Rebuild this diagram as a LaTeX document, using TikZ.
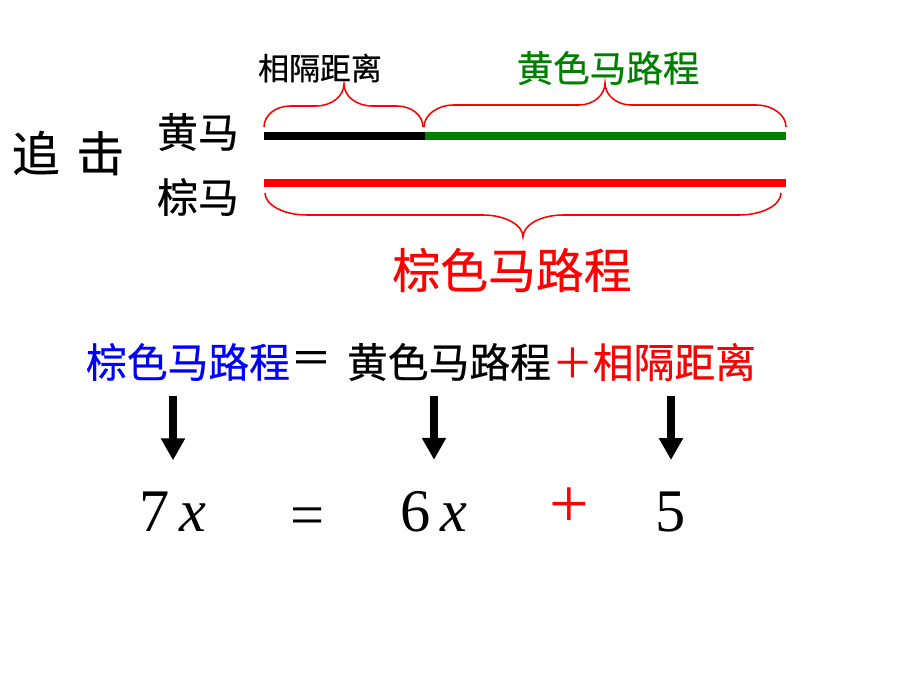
\documentclass[tikz,border=0pt]{standalone}
\usepackage{fontspec}
\setmainfont{Liberation Serif}
\newfontfamily\cjk[FakeBold=0.5]{Noto Sans CJK SC}
\usetikzlibrary{arrows.meta}
\definecolor{hgreen}{RGB}{0,128,0}
\definecolor{hred}{RGB}{255,0,0}
\definecolor{hblue}{RGB}{0,0,255}

\begin{document}
\begin{tikzpicture}[x=0.025cm,y=-0.025cm,
  lbl/.style={inner sep=0pt,font=\cjk},
  term/.style={inner sep=0pt,font=\fontsize{43}{46}\selectfont},
  bar/.style={line width=5pt},
  brace/.style={hred,line width=1.1pt},
  down/.style={line width=5pt,-{Triangle[length=15.6pt,width=16.3pt]},
    shorten <=10.5pt,shorten >=22.5pt}]
\useasboundingbox (0,0) rectangle (920,690);

% labels at the left
\node[lbl,font=\cjk\fontsize{34}{36}\selectfont] (chase) at (68,153) {追\hspace{0.35em}击};
\node[lbl,font=\cjk\fontsize{29}{32}\selectfont] (yellow) at (198,132) {黄马};
\node[lbl,font=\cjk\fontsize{29}{32}\selectfont] (brown) at (198,197) {棕马};

% the two tracks
\coordinate (ya) at (264,136);
\coordinate (yb) at (425,136);
\coordinate (yc) at (786,136);
\coordinate (ba) at (264,183);
\coordinate (bb) at (786,183);
\draw[bar,black] (ya) -- (yb);
\draw[bar,hgreen] (yb) -- (yc);
\draw[bar,hred] (ba) -- (bb);

% braces
\draw[brace] (264,127) .. controls (264,115.4) and (275.6,106) .. (290,106) -- (316,106)
  .. controls (331.5,106) and (344,96.1) .. (344,84)
  .. controls (344,96.1) and (356.5,106) .. (372,106) -- (397,106)
  .. controls (411.4,106) and (423,115.4) .. (423,127);
\draw[brace] (424,127) .. controls (424,114.9) and (437.4,105) .. (454,105) -- (579,105)
  .. controls (593.4,105) and (605,95.1) .. (605,83)
  .. controls (605,95.1) and (616.6,105) .. (631,105) -- (756,105)
  .. controls (772.6,105) and (786,114.9) .. (786,127);
\draw[brace] (265,193) .. controls (265,205.1) and (283.8,215) .. (307,215) -- (483,215)
  .. controls (505.1,215) and (523,224.9) .. (523,237)
  .. controls (523,224.9) and (540.9,215) .. (563,215) -- (739,215)
  .. controls (762.2,215) and (781,205.1) .. (781,193);

\node[lbl,font=\cjk\fontsize{22}{24}\selectfont] (gap) at (320,68) {相隔距离};
\node[lbl,font=\cjk\fontsize{26}{28}\selectfont,text=hgreen] (ydist) at (608,68) {黄色马路程};
\node[lbl,font=\cjk\fontsize{34}{36}\selectfont,text=hred] (bdist) at (512,270) {棕色马路程};

% word equation
\node[lbl,font=\cjk\fontsize{29}{32}\selectfont,text=hblue] (wb) at (188,362) {棕色马路程};
\node[lbl,font=\cjk\fontsize{29}{32}\selectfont] (weq) at (311,362) {＝};
\node[lbl,font=\cjk\fontsize{29}{32}\selectfont] (wy) at (449,362) {黄色马路程};
\node[lbl,font=\cjk\fontsize{29}{32}\selectfont,text=hred] (wg) at (654,362) {＋相隔距离};

% terms
\node[term] (t7) at (173,512) {7\,\textit{x}};
\node[term] (teq) at (308,522) {=};
\node[term] (t6) at (434,512) {6\,\textit{x}};
\node[term,text=hred,font=\fontsize{50}{54}\selectfont] (tplus) at (569,508) {+};
\node[term] (t5) at (671,512) {5};

\draw[down] (t7.north |- wb.south) -- (t7.north);
\draw[down] (t6.north |- wy.south) -- (t6.north);
\draw[down] (t5.north |- wg.south) -- (t5.north);
\end{tikzpicture}
\end{document}
